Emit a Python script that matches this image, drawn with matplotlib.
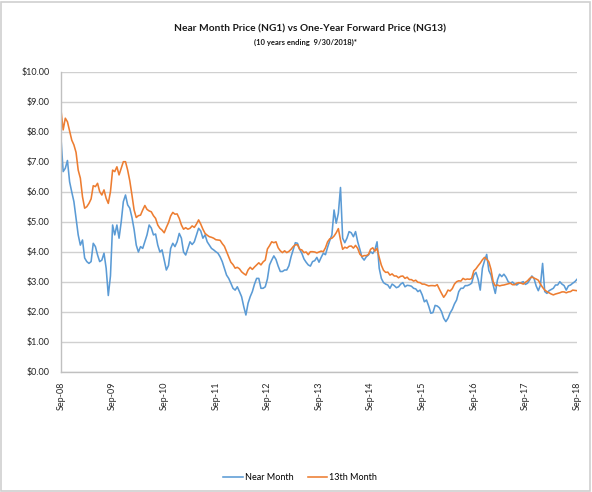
import numpy as np
import matplotlib
matplotlib.use("Agg")
import matplotlib.pyplot as plt
from matplotlib.ticker import FuncFormatter, MultipleLocator
from matplotlib.patches import Rectangle

plt.rcParams['font.family'] = ['Lato', 'DejaVu Sans']

title = "Near Month Price (NG1) vs One-Year Forward Price (NG13)"
subtitle = "(10 years ending  9/30/2018)*"
tick_labels = ["Sep-08", "Sep-09", "Sep-10", "Sep-11", "Sep-12", "Sep-13",
               "Sep-14", "Sep-15", "Sep-16", "Sep-17", "Sep-18"]
series_names = ["Near Month", "13th Month"]

# semi-monthly readings, starting 9/30/2008 (one value per half month)
near_month = [
    7.79, 6.68, 6.79, 7.05, 6.34, 6.00, 5.68, 5.12, 4.57, 4.23, 4.40, 3.80,
    3.68, 3.62, 3.68, 4.29, 4.18, 3.90, 3.68, 3.73, 3.96, 3.46, 2.55, 3.20,
    4.90, 4.57, 4.90, 4.46, 5.00, 5.68, 5.90, 5.57, 5.46, 5.15, 4.75, 4.23,
    4.00, 4.18, 4.12, 4.34, 4.57, 4.90, 4.80, 4.57, 4.60, 4.23, 4.00, 4.07,
    3.73, 3.40, 3.55, 4.12, 4.29, 4.18, 4.34, 4.62, 4.46, 4.00, 3.90, 4.12,
    4.34, 4.25, 4.34, 4.57, 4.79, 4.70, 4.46, 4.57, 4.34, 4.23, 4.12, 4.07,
    4.01, 3.96, 3.84, 3.68, 3.46, 3.23, 3.12, 2.96, 2.79, 2.73, 2.84, 2.68,
    2.51, 2.18, 1.90, 2.29, 2.51, 2.68, 2.93, 3.12, 3.12, 2.79, 2.79, 2.84,
    3.10, 3.57, 3.73, 3.87, 3.75, 3.53, 3.35, 3.35, 3.40, 3.40, 3.54, 3.84,
    4.07, 4.31, 4.29, 4.09, 3.96, 3.77, 3.66, 3.57, 3.53, 3.68, 3.71, 3.82,
    3.66, 3.82, 3.96, 3.91, 4.16, 4.38, 4.57, 5.40, 4.96, 5.29, 6.15, 4.46,
    4.31, 4.46, 4.68, 4.64, 4.51, 4.68, 4.34, 4.09, 3.82, 3.73, 3.84, 3.90,
    4.01, 3.95, 4.07, 4.34, 3.46, 3.12, 2.98, 2.93, 2.90, 2.79, 2.93, 2.88,
    2.81, 2.84, 2.93, 2.98, 2.84, 2.89, 2.88, 2.86, 2.79, 2.77, 2.68, 2.73,
    2.57, 2.34, 2.40, 2.20, 1.96, 1.98, 2.22, 2.20, 2.14, 2.01, 1.79, 1.68,
    1.79, 1.97, 2.09, 2.27, 2.40, 2.68, 2.79, 2.79, 2.88, 2.88, 2.91, 2.96,
    3.23, 3.32, 3.09, 2.73, 3.46, 3.71, 3.92, 3.38, 3.23, 2.90, 2.62, 3.07,
    3.26, 3.18, 3.26, 3.16, 3.01, 2.96, 3.00, 2.93, 2.90, 2.96, 2.98, 3.01,
    2.92, 2.96, 3.07, 3.20, 3.12, 2.87, 2.71, 2.90, 3.62, 2.68, 2.62, 2.71,
    2.75, 2.79, 2.90, 2.90, 3.01, 2.93, 2.88, 2.73, 2.87, 2.90, 2.96, 3.01,
    3.09,
]

month_13 = [
    8.73, 8.07, 8.46, 8.34, 8.03, 7.73, 7.57, 7.32, 6.73, 6.46, 5.84, 5.46,
    5.51, 5.62, 5.77, 6.21, 6.18, 6.29, 6.01, 5.90, 6.07, 5.79, 5.62, 6.01,
    6.73, 6.68, 6.84, 6.57, 6.79, 7.01, 7.01, 6.73, 6.37, 5.90, 5.40, 5.15,
    5.21, 5.23, 5.40, 5.55, 5.42, 5.37, 5.34, 5.21, 5.12, 4.90, 4.79, 4.73,
    4.64, 4.82, 4.98, 5.20, 5.32, 5.26, 5.27, 5.12, 4.90, 4.76, 4.81, 4.76,
    4.79, 4.87, 4.82, 4.93, 5.07, 4.93, 4.76, 4.62, 4.56, 4.51, 4.49, 4.46,
    4.41, 4.40, 4.39, 4.28, 4.19, 4.01, 3.84, 3.66, 3.58, 3.46, 3.49, 3.44,
    3.34, 3.28, 3.23, 3.40, 3.49, 3.42, 3.50, 3.57, 3.64, 3.57, 3.67, 3.73,
    4.10, 4.21, 4.34, 4.31, 4.34, 4.14, 4.04, 3.98, 4.04, 3.98, 4.02, 4.09,
    4.18, 4.24, 4.24, 4.09, 4.07, 3.98, 4.00, 3.91, 4.01, 4.01, 4.00, 3.97,
    4.00, 4.03, 4.01, 4.14, 4.34, 4.44, 4.46, 4.53, 4.64, 4.78, 4.40, 4.09,
    4.16, 4.13, 4.19, 4.20, 4.13, 4.22, 4.12, 3.93, 3.85, 3.88, 3.88, 3.92,
    4.09, 4.14, 4.03, 4.12, 3.82, 3.56, 3.39, 3.32, 3.33, 3.23, 3.27, 3.20,
    3.20, 3.14, 3.19, 3.20, 3.12, 3.16, 3.08, 3.08, 3.03, 3.06, 2.99, 2.98,
    2.93, 2.93, 2.90, 2.87, 2.88, 2.88, 2.87, 2.91, 2.76, 2.62, 2.49, 2.59,
    2.73, 2.70, 2.78, 2.93, 3.01, 3.04, 3.03, 3.12, 3.08, 3.10, 3.09, 3.12,
    3.37, 3.44, 3.54, 3.63, 3.74, 3.82, 3.76, 3.67, 3.42, 3.01, 2.87, 2.90,
    2.87, 2.89, 2.90, 2.92, 2.94, 2.96, 2.91, 2.91, 2.96, 2.98, 2.96, 2.93,
    2.99, 3.04, 3.12, 3.17, 3.13, 3.10, 3.06, 2.93, 2.82, 2.73, 2.68, 2.64,
    2.60, 2.57, 2.60, 2.62, 2.64, 2.67, 2.67, 2.64, 2.67, 2.68, 2.73, 2.72,
    2.71,
]

months = np.arange(len(near_month)) * 0.5
tick_pos = np.arange(len(tick_labels)) * 12

W, H = 592, 492
fig = plt.figure(figsize=(W / 100, H / 100), dpi=100)
fig.patch.set_facecolor("white")
fig.add_artist(Rectangle((1 / W, 1 / H), 1 - 3 / W, 1 - 3 / H, transform=fig.transFigure,
                         fill=False, edgecolor="#d0d0d0", lw=1.2))

ax = fig.add_axes([61 / W, (H - 372) / H, 516 / W, 300 / H])
ax.plot(months, near_month, color="#5B9BD5", lw=1.15, label=series_names[0])
ax.plot(months, month_13, color="#ED7D31", lw=1.15, label=series_names[1])

ax.set_xlim(0, 120)
ax.set_ylim(0, 10)
ax.yaxis.set_major_locator(MultipleLocator(1))
ax.yaxis.set_major_formatter(FuncFormatter(lambda v, p: f"${v:.2f}"))
ax.set_xticks(tick_pos)
ax.set_xticklabels(tick_labels, rotation=90)
ax.grid(axis="y", color="#d0d0d0", lw=1.0)
ax.set_axisbelow(True)
for s in ["top", "right"]:
    ax.spines[s].set_visible(False)
for s in ["left", "bottom"]:
    ax.spines[s].set_color("#c0c0c0")
    ax.spines[s].set_linewidth(1.0)
ax.tick_params(axis="y", length=0, labelsize=6.5, colors="#262626", pad=8)
ax.tick_params(axis="x", length=0, labelsize=6.5, colors="#262626", pad=7)

fig.text(310 / W, 1 - 29 / H, title, ha="center", va="center",
         fontsize=7.3, fontweight="bold", color="#1a1a1a")
fig.text(305 / W, 1 - 42 / H, subtitle, ha="center", va="center",
         fontsize=5.5, fontweight="bold", color="#1a1a1a")

fig.legend(loc="center", bbox_to_anchor=(300 / W, 1 - 478 / H), ncol=2,
           frameon=False, fontsize=6.5, handlelength=2.2, columnspacing=1.6,
           handletextpad=0.2)

fig.savefig("out.png", dpi=100, facecolor="white")
